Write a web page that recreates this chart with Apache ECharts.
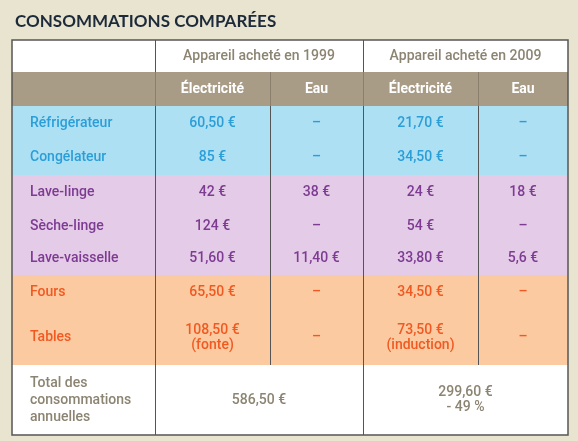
<!DOCTYPE html><html><head><meta charset="utf-8">
<script src="https://cdn.jsdelivr.net/npm/echarts@6/dist/echarts.min.js"></script>
<style>html,body{margin:0;background:#e9e4cf}#c{width:578px;height:441px}</style></head><body><div id="c"></div>
<script>
const titleText = 'CONSOMMATIONS COMPARÉES';
const groupHeaders = ['Appareil acheté en 1999', 'Appareil acheté en 2009'];
const subHeaders = ['Électricité', 'Eau', 'Électricité', 'Eau'];
const appliances = ['Réfrigérateur','Congélateur','Lave-linge','Sèche-linge','Lave-vaisselle','Fours','Tables'];
const sections = ['blue','blue','purple','purple','purple','orange','orange'];
const elec1999 = ['60,50 €','85 €','42 €','124 €','51,60 €','65,50 €','108,50 €\n(fonte)'];
const eau1999 = ['–','–','38 €','–','11,40 €','–','–'];
const elec2009 = ['21,70 €','34,50 €','24 €','54 €','33,80 €','34,50 €','73,50 €\n(induction)'];
const eau2009 = ['–','–','18 €','–','5,6 €','–','–'];
const totalLabel = 'Total des\nconsommations\nannuelles';
const totals = ['586,50 €', '299,60 €\n- 49 %'];

const colEdges = [0,143,258,351,466,556];
const rowEdges = [0,32,66,100,135,170,202,235,270,325,395];
const bg = {blue:'#aee0f4', purple:'#e4cbe7', orange:'#fccaa1'};
const fg = {blue:'#2b9ed8', purple:'#7d3b92', orange:'#f05a22'};
const gray = '#8c8472';
const font = '"Liberation Sans Narrow","Roboto",sans-serif';

const cells = [];
cells.push({r:0,c0:0,c1:1,t:'',bg:'#ffffff',fg:gray});
cells.push({r:0,c0:1,c1:3,t:groupHeaders[0],bg:'#ffffff',fg:gray,line:'#555',w:'500'});
cells.push({r:0,c0:3,c1:5,t:groupHeaders[1],bg:'#ffffff',fg:gray,line:'#555',w:'500'});
cells.push({r:1,c0:0,c1:1,t:'',bg:'#a89c87',fg:'#fff'});
subHeaders.forEach((s,i)=>cells.push({r:1,c0:i+1,c1:i+2,t:s,bg:'#a89c87',fg:'#fff',w:'bold',line:'#8a7f6c'}));
appliances.forEach((a,i)=>{
  const s=sections[i], r=i+2;
  cells.push({r,c0:0,c1:1,t:a,bg:bg[s],fg:fg[s],left:true});
  [elec1999[i],eau1999[i],elec2009[i],eau2009[i]].forEach((v,j)=>cells.push({r,c0:j+1,c1:j+2,t:v,bg:bg[s],fg:fg[s],line:'#555'}));
});
cells.push({r:9,c0:0,c1:1,t:totalLabel,bg:'#ffffff',fg:gray,left:true});
cells.push({r:9,c0:1,c1:3,t:totals[0],bg:'#ffffff',fg:gray,line:'#555'});
cells.push({r:9,c0:3,c1:5,t:totals[1],bg:'#ffffff',fg:gray,line:'#555'});

const data = cells.map((c,i)=>[i]);
const chart = echarts.init(document.getElementById('c'));
chart.setOption({
  backgroundColor:'#e9e4cf',
  title:{text:titleText,left:10,top:8,textStyle:{fontFamily:'"Lato","Open Sans",sans-serif',fontSize:17,fontWeight:'bold',color:'#1d2a3a'}},
  grid:{left:12,right:10,top:40,bottom:6},
  xAxis:{type:'value',min:0,max:556,show:false},
  yAxis:{type:'value',min:0,max:395,inverse:true,show:false},
  series:[{type:'custom',coordinateSystem:'cartesian2d',data,
    renderItem:(params,api)=>{
      const c=cells[api.value(0)];
      const p0=api.coord([colEdges[c.c0],rowEdges[c.r]]);
      const p1=api.coord([colEdges[c.c1],rowEdges[c.r+1]]);
      const w=p1[0]-p0[0], h=p1[1]-p0[1];
      const ch=[{type:'rect',shape:{x:p0[0],y:p0[1],width:w,height:h},style:{fill:c.bg}}];
      if(c.line) ch.push({type:'line',shape:{x1:p0[0]+0.5,y1:p0[1],x2:p0[0]+0.5,y2:p1[1]},style:{stroke:c.line,lineWidth:1}});
      ch.push({type:'text',style:{text:c.t,x:c.left?p0[0]+18:p0[0]+w/2,y:p0[1]+h/2,align:c.left?'left':'center',verticalAlign:'middle',fill:c.fg,font:(c.w||'500')+' 14px '+font,lineHeight:c.r===9&&c.left?17:15}});
      return {type:'group',children:ch};
    }},
    {type:'custom',coordinateSystem:'cartesian2d',data:[[0]],z:5,
    renderItem:(params,api)=>{
      const p0=api.coord([0,0]), p1=api.coord([556,395]);
      return {type:'rect',shape:{x:p0[0],y:p0[1],width:p1[0]-p0[0],height:p1[1]-p0[1]},style:{fill:'none',stroke:'#555',lineWidth:1.5}};
    }}]
});
</script></body></html>
